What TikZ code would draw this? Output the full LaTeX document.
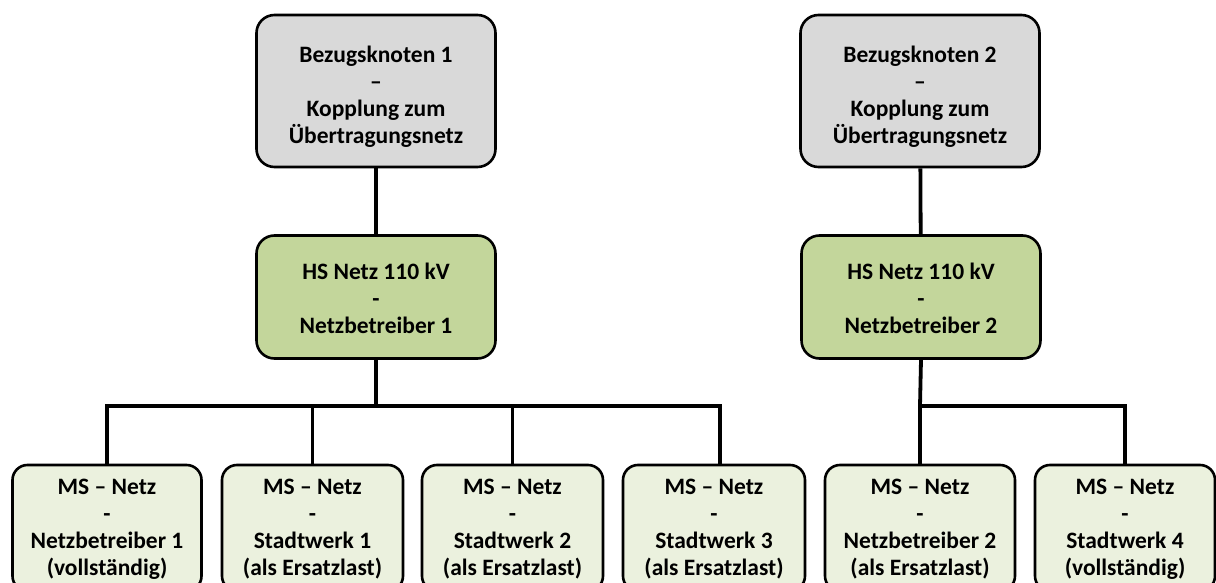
\documentclass[tikz,border=0pt]{standalone}
\usepackage{fontspec}
\setmainfont{Carlito}
\definecolor{topgray}{HTML}{D9D9D9}
\definecolor{midgreen}{HTML}{C3D69B}
\definecolor{lowgreen}{HTML}{EBF1DE}
\newcommand{\boxtext}[2]{\raisebox{-#1}[0pt][0pt]{\begin{tabular}{@{}c@{}}#2\end{tabular}}}
\begin{document}
\begin{tikzpicture}[x=1pt,y=-1pt,
  box/.style={draw=black, line width=2.6pt, rounded corners=18pt, inner sep=0pt,
    font=\fontsize{23.5}{27}\selectfont\bfseries},
  topbox/.style={box, fill=topgray, minimum width=239pt, minimum height=152pt},
  midbox/.style={box, fill=midgreen, minimum width=239pt, minimum height=123pt},
  lowbox/.style={box, fill=lowgreen, rounded corners=15pt, minimum height=126pt},
  link/.style={line width=3.8pt}]
\path[use as bounding box] (0,0) rectangle (1216,583);
\clip (0,0) rectangle (1216,583);
\node[topbox] (t1) at (376,91) {\boxtext{12.9pt}{Bezugsknoten 1\\–\\Kopplung zum\\Übertragungsnetz}};
\node[topbox] (t2) at (920,91) {\boxtext{12.9pt}{Bezugsknoten 2\\–\\Kopplung zum\\Übertragungsnetz}};
\node[midbox] (m1) at (376,297) {\boxtext{10.3pt}{HS Netz 110 kV\\-\\Netzbetreiber 1}};
\node[midbox] (m2) at (921,297) {\boxtext{10.3pt}{HS Netz 110 kV\\-\\Netzbetreiber 2}};
\node[lowbox, minimum width=189pt] (b1) at (107,528) {\boxtext{7.5pt}{MS – Netz\\-\\Netzbetreiber 1\\(vollständig)}};
\node[lowbox, minimum width=181pt] (b2) at (312.5,528) {\boxtext{7.5pt}{MS – Netz\\-\\Stadtwerk 1\\(als Ersatzlast)}};
\node[lowbox, minimum width=181pt] (b3) at (512.5,528) {\boxtext{7.5pt}{MS – Netz\\-\\Stadtwerk 2\\(als Ersatzlast)}};
\node[lowbox, minimum width=182pt] (b4) at (714,528) {\boxtext{7.5pt}{MS – Netz\\-\\Stadtwerk 3\\(als Ersatzlast)}};
\node[lowbox, minimum width=190pt] (b5) at (920,528) {\boxtext{7.5pt}{MS – Netz\\-\\Netzbetreiber 2\\(als Ersatzlast)}};
\node[lowbox, minimum width=180pt] (b6) at (1125,528) {\boxtext{7.5pt}{MS – Netz\\-\\Stadtwerk 4\\(vollständig)}};
\coordinate (bar1) at (376,406);
\coordinate (bar2) at (920,406);
\coordinate (d4) at (720,406);
\draw[link] (t1) -- (m1);
\draw[link] (t2) -- (m2);
\draw[link] (m1.south) -- (bar1);
\draw[link] (b1.north) |- (bar1) -- (d4) -- (d4 |- b4.north);
\draw[link] (b2.north) -- (b2.north |- bar1);
\draw[link] (b3.north) -- (b3.north |- bar1);
\draw[link] (m2.south) -- (bar2);
\draw[link] (b5.north) -- (bar2 -| b5.north);
\draw[link] (bar2) -| (b6.north);
\end{tikzpicture}
\end{document}
